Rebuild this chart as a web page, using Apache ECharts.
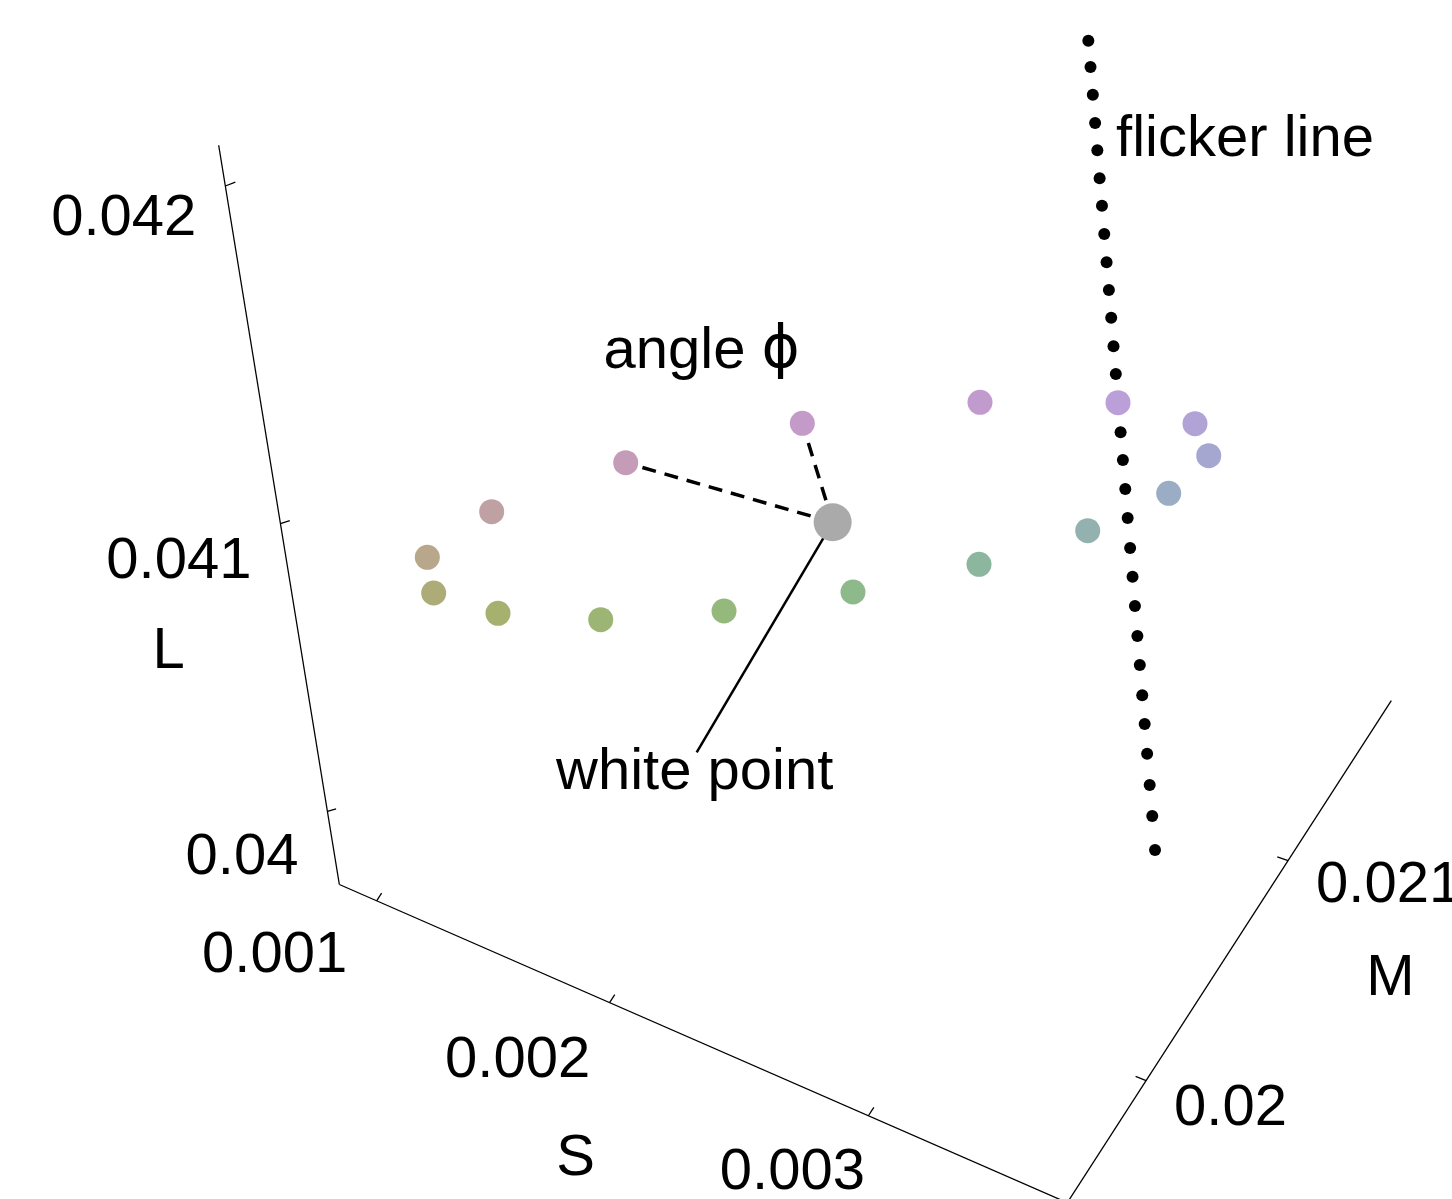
<!DOCTYPE html>
<html>
<head>
<meta charset="utf-8">
<title>flicker line</title>
<script src="https://cdn.jsdelivr.net/npm/echarts@6/dist/echarts.min.js"></script>
<style>
html,body{margin:0;padding:0;background:#fff;}
#chartContainer{width:1452px;height:1199px;}
</style>
</head>
<body>
<div id="chartContainer"></div>
<script>
// ring of stimuli round the white point (cone excitations S, M, L)
var ringS = [0.0014427, 0.0009393, 0.0007222, 0.0008352, 0.0011933, 0.0017014, 0.0022400, 0.0027534,
             0.0031847, 0.0035113, 0.0037089, 0.0037536, 0.0036239, 0.0032932, 0.0027707, 0.0021140];
var ringM = [0.0198666, 0.0201741, 0.0205024, 0.0207591, 0.0209149, 0.0209363, 0.0208673, 0.0207293,
             0.0205465, 0.0203339, 0.0201082, 0.0198921, 0.0197001, 0.0195795, 0.0195493, 0.0196418];
var ringL = [0.0409231, 0.0404294, 0.0400208, 0.0398059, 0.0397826, 0.0399492, 0.0402174, 0.0405454,
             0.0408878, 0.0412212, 0.0415200, 0.0417527, 0.0418967, 0.0418949, 0.0417318, 0.0413963];
var ringColors = ['#bfa0a3', '#b9a78c', '#adab78', '#a6b16f', '#9db574', '#95b87c', '#8db98b', '#8cb79e',
                  '#93b1af', '#9aadc5', '#a6a7d0', '#b2a3d6', '#bb9fd8', '#c19bcd', '#c49bc8', '#c49cb8'];
// white point
var whiteS = 0.0024826, whiteM = 0.0202700, whiteL = 0.0409045;
// the two stimuli that span angle phi
var angleIdx = [15, 14];
// flicker line
var flickerS = [0.0030846, 0.0030921, 0.0031001, 0.0031082, 0.0031162, 0.0031245, 0.0031330, 0.0031415,
                0.0031502, 0.0031589, 0.0031678, 0.0031768, 0.0031859, 0.0031954, 0.0032051, 0.0032146,
                0.0032245, 0.0032345, 0.0032451, 0.0032555, 0.0032660, 0.0032770, 0.0032878, 0.0032991,
                0.0033103, 0.0033219, 0.0033342, 0.0033466, 0.0033605];
var flickerM = [0.0206405, 0.0206440, 0.0206478, 0.0206517, 0.0206554, 0.0206593, 0.0206633, 0.0206674,
                0.0206714, 0.0206756, 0.0206798, 0.0206840, 0.0206883, 0.0206928, 0.0206974, 0.0207018,
                0.0207065, 0.0207113, 0.0207162, 0.0207211, 0.0207261, 0.0207313, 0.0207364, 0.0207417,
                0.0207470, 0.0207525, 0.0207583, 0.0207642, 0.0207707];
var flickerL = [0.042050, 0.041989, 0.041924, 0.041857, 0.041792, 0.041724, 0.041656, 0.041586,
                0.041515, 0.041444, 0.041372, 0.041298, 0.041224, 0.041146, 0.041067, 0.040990,
                0.040909, 0.040827, 0.040741, 0.040657, 0.040571, 0.040481, 0.040393, 0.040300,
                0.040210, 0.040115, 0.040015, 0.039913, 0.039800];
// axes
var boxS = [0.00083, 0.0037];
var boxM = [0.019445, 0.021727];
var boxL = [0.03972, 0.04211];
var sTicks = [0.001, 0.002, 0.003], sTickLabels = ['0.001', '0.002', '0.003'];
var mTicks = [0.02, 0.021], mTickLabels = ['0.02', '0.021'];
var lTicks = [0.04, 0.041, 0.042], lTickLabels = ['0.04', '0.041', '0.042'];

var FONT = '"Liberation Sans", Arial, Helvetica, sans-serif';
var FONT_SIZE = 58;

//perspective camera, fitted to the box in the picture
function project(s, m, l){
	var a = (s - 0.001) * 1000, b = (m - 0.02) * 1000, c = (l - 0.04) * 1000;
	var w = 1 - 0.051 * a - 0.0746 * c;
	return [(435.0 + 206.7 * a + 125.4 * b - 68.3 * c) / w,
	        (719.6 + 52.8 * a - 194.3 * b - 329.3 * c) / w];
}

function textEl(x, y, text, align){
	return {type:'text', x:x, y:y, style:{text:text, fill:'#000', fontSize:FONT_SIZE, fontFamily:FONT,
		align:align, verticalAlign:'middle'}};
}
function lineEl(p, q, width, dash){
	return {type:'line', shape:{x1:p[0], y1:p[1], x2:q[0], y2:q[1]},
		style:{stroke:'#000', lineWidth:width, lineDash:dash || null, fill:null}};
}

//axes, ticks and labels
function renderFrame(params, api){
	var children = [];
	var s0 = boxS[0], s1 = boxS[1], m0 = boxM[0], m1 = boxM[1], l0 = boxL[0], l1 = boxL[1];
	function pt(s, m, l){ return api.coord(project(s, m, l)); }

	// L axis
	children.push(lineEl(pt(s0, m0, l0), pt(s0, m0, l1), 1.3));
	var lDy = [47, 38, 33];
	for(var i = 0; i < lTicks.length; i++){
		var p = pt(s0, m0, lTicks[i]);
		children.push(lineEl(p, pt(s0 + 0.000025, m0 + 0.000025, lTicks[i]), 1.3));
		children.push(textEl(p[0] - 29, p[1] + lDy[i], lTickLabels[i], 'right'));
	}
	var lMid = pt(s0, m0, (l0 + l1) / 2);
	children.push(textEl(lMid[0] - 116, lMid[1] + 102, 'L', 'center'));

	// S axis
	children.push(lineEl(pt(s0, m0, l0), pt(s1, m0, l0), 1.3));
	var sDx = [-102, -92, -76], sDy = [55, 58, 57];
	for(var j = 0; j < sTicks.length; j++){
		var q = pt(sTicks[j], m0, l0);
		children.push(lineEl(q, pt(sTicks[j], m0 + 0.00004, l0), 1.3));
		children.push(textEl(q[0] + sDx[j], q[1] + sDy[j], sTickLabels[j], 'center'));
	}
	var sMid = pt((s0 + s1) / 2, m0, l0);
	children.push(textEl(sMid[0] - 100, sMid[1] + 128, 'S', 'center'));

	// M axis
	children.push(lineEl(pt(s1, m0, l0), pt(s1, m1, l0), 1.3));
	var mDy = [28, 25];
	for(var k = 0; k < mTicks.length; k++){
		var r = pt(s1, mTicks[k], l0);
		children.push(lineEl(r, pt(s1 - 0.000035, mTicks[k], l0), 1.3));
		children.push(textEl(r[0] + 28, r[1] + mDy[k], mTickLabels[k], 'left'));
	}
	var mMid = pt(s1, (m0 + m1) / 2, l0);
	children.push(textEl(mMid[0] + 161, mMid[1] + 27, 'M', 'center'));

	return {type:'group', children:children};
}

//annotations: angle phi, white point, flicker line
function renderNotes(params, api){
	var children = [];
	var w = api.coord(project(whiteS, whiteM, whiteL));
	for(var i = 0; i < angleIdx.length; i++){
		var n = angleIdx[i];
		var p = api.coord(project(ringS[n], ringM[n], ringL[n]));
		children.push(lineEl(w, p, 3.5, [14, 9]));
	}
	children.push(lineEl(w, [w[0] - 136, w[1] + 230], 2.5));
	children.push(textEl(w[0] - 138, w[1] + 251, 'white point', 'center'));
	children.push({type:'text', x:w[0] - 131, y:w[1] - 170, style:{
		text:'angle {p|ϕ}', fill:'#000', fontSize:FONT_SIZE, fontFamily:FONT, align:'center', verticalAlign:'middle',
		rich:{p:{fontSize:58, fontFamily:'"DejaVu Sans", sans-serif', fill:'#000'}}}});
	var f = api.coord(project(flickerS[3], flickerM[3], flickerL[3]));
	children.push(textEl(f[0] + 21, f[1] + 17, 'flicker line', 'left'));
	return {type:'group', children:children};
}

var myChart = echarts.init(document.getElementById('chartContainer'));
var option = {
	animation:false,
	backgroundColor:'#fff',
	grid:{left:0, right:0, top:0, bottom:0},
	xAxis:{type:'value', min:0, max:1452, show:false},
	yAxis:{type:'value', min:0, max:1199, inverse:true, show:false},
	series:[
		{type:'custom', name:'axes', z:1, silent:true, renderItem:renderFrame, data:[[0, 0]]},
		{type:'custom', name:'notes', z:2, silent:true, renderItem:renderNotes, data:[[0, 0]]},
		{type:'scatter', name:'flicker line', z:3, silent:true, symbolSize:12,
			itemStyle:{color:'#000', opacity:1},
			data:flickerS.map(function(s, i){ return project(s, flickerM[i], flickerL[i]); })},
		{type:'scatter', name:'stimuli', z:4, silent:true, symbolSize:25,
			data:ringS.map(function(s, i){
				return {value:project(s, ringM[i], ringL[i]), itemStyle:{color:ringColors[i], opacity:1}};
			})},
		{type:'scatter', name:'white point', z:5, silent:true, symbolSize:38,
			itemStyle:{color:'#aaaaaa', opacity:1},
			data:[project(whiteS, whiteM, whiteL)]}
	]
};
myChart.setOption(option);
window.onresize = myChart.resize;
</script>
</body>
</html>
